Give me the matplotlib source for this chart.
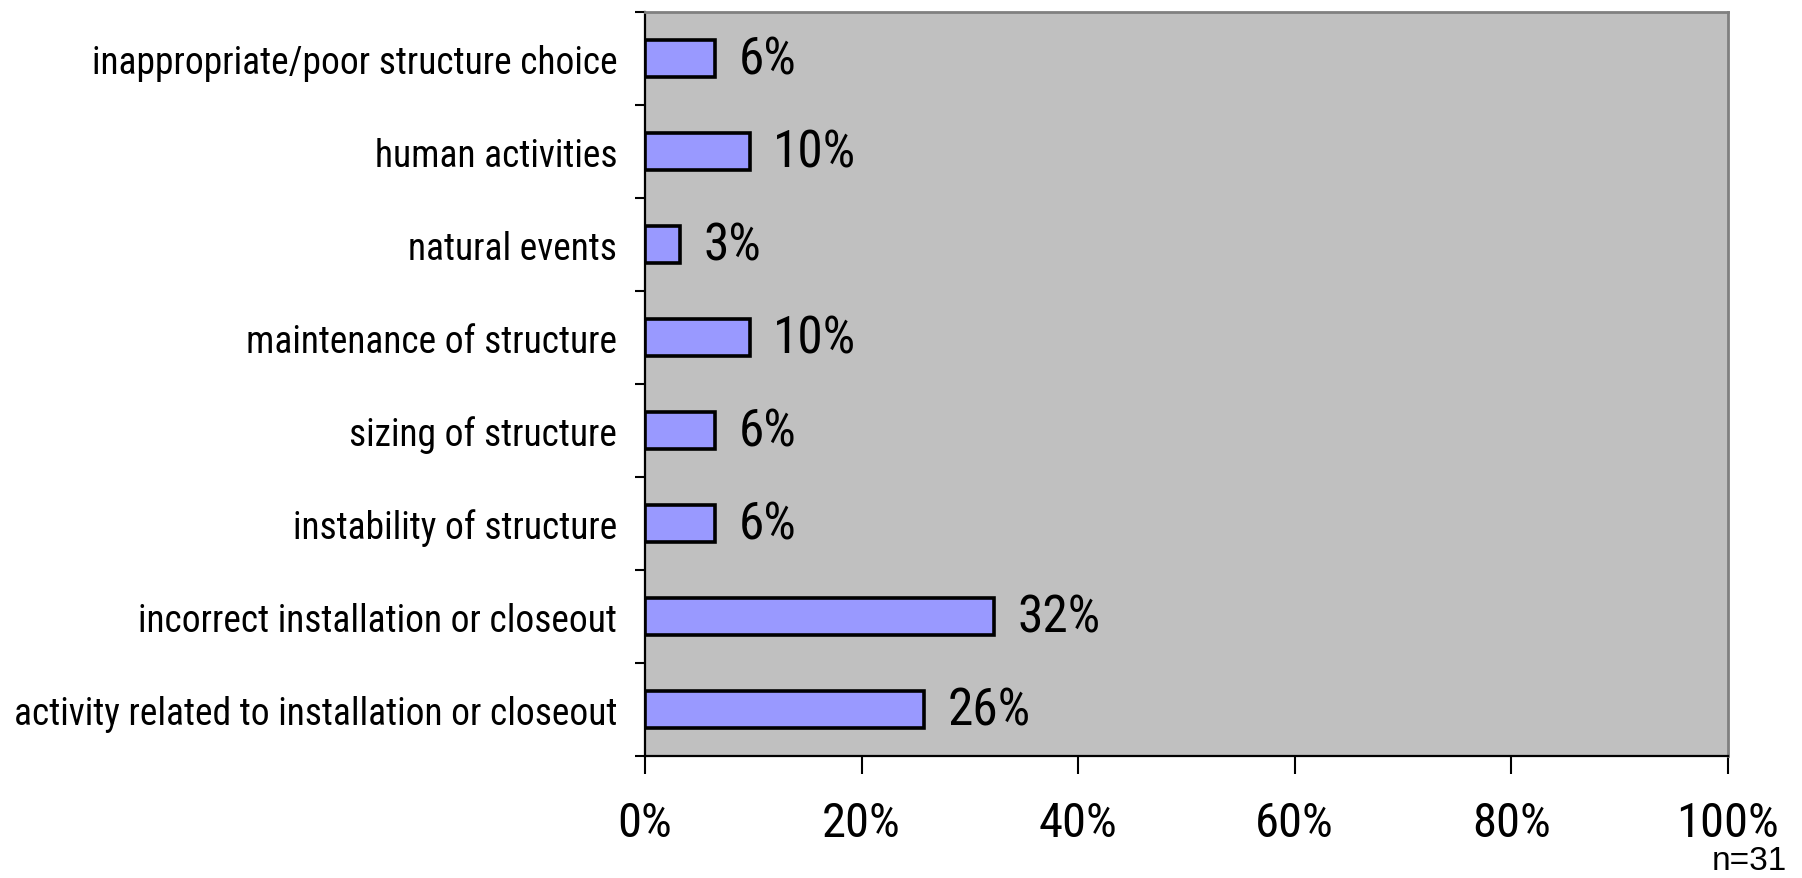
import matplotlib
matplotlib.use("Agg")
import matplotlib.pyplot as plt
from matplotlib.ticker import FixedLocator, PercentFormatter
import numpy as np

categories = [
    "activity related to installation or closeout",
    "incorrect installation or closeout",
    "instability of structure",
    "sizing of structure",
    "maintenance of structure",
    "natural events",
    "human activities",
    "inappropriate/poor structure choice",
]
counts = [8, 10, 2, 2, 3, 1, 3, 2]
n_total = 31
values = [c / n_total * 100 for c in counts]
value_labels = ["26%", "32%", "6%", "6%", "10%", "3%", "10%", "6%"]
x_ticks = [0, 20, 40, 60, 80, 100]

NARROW = ["Roboto Condensed", "Liberation Sans", "DejaVu Sans"]
REG = ["Liberation Sans", "DejaVu Sans"]

fig = plt.figure(figsize=(18.02, 8.79), dpi=100)
ax = fig.add_axes([0.3579, 0.1388, 0.9589 - 0.3579, 0.9852 - 0.1388])
ax.set_facecolor("#C0C0C0")

y = np.arange(len(categories))
ax.barh(y, values, height=0.4, color="#9999FF", edgecolor="black", linewidth=2.6, zorder=3)

for yi, v, lab in zip(y, values, value_labels):
    ax.annotate(lab, (v, yi), xytext=(17, -1), textcoords="offset points",
                ha="left", va="center", fontsize=37, family=NARROW, color="black")

ax.set_xlim(0, 100)
ax.set_ylim(-0.5, len(categories) - 0.5)
ax.xaxis.set_major_locator(FixedLocator(x_ticks))
ax.xaxis.set_major_formatter(PercentFormatter(decimals=0))
ax.set_yticks(y)
ax.set_yticklabels(categories)
ax.yaxis.set_minor_locator(FixedLocator(np.arange(-0.5, len(categories), 1.0)))

ax.tick_params(axis="y", which="major", length=0, pad=20)
ax.tick_params(axis="y", which="minor", length=7, width=1.5, color="black", direction="out")
ax.tick_params(axis="x", which="major", length=13, width=1.5, color="black", pad=19)

for lab in ax.get_yticklabels():
    lab.set_family(NARROW)
    lab.set_fontsize(27)
for lab in ax.get_xticklabels():
    lab.set_family(NARROW)
    lab.set_fontsize(35)

for s in ["left", "bottom"]:
    ax.spines[s].set_color("black")
    ax.spines[s].set_linewidth(1.6)
for s in ["top", "right"]:
    ax.spines[s].set_color("#808080")
    ax.spines[s].set_linewidth(2.0)

fig.text(1787 / 1802, 0.002, f"n={n_total}", ha="right", va="bottom",
         fontsize=24, family=REG, color="black")

fig.savefig("out.png", dpi=100, facecolor="white")
